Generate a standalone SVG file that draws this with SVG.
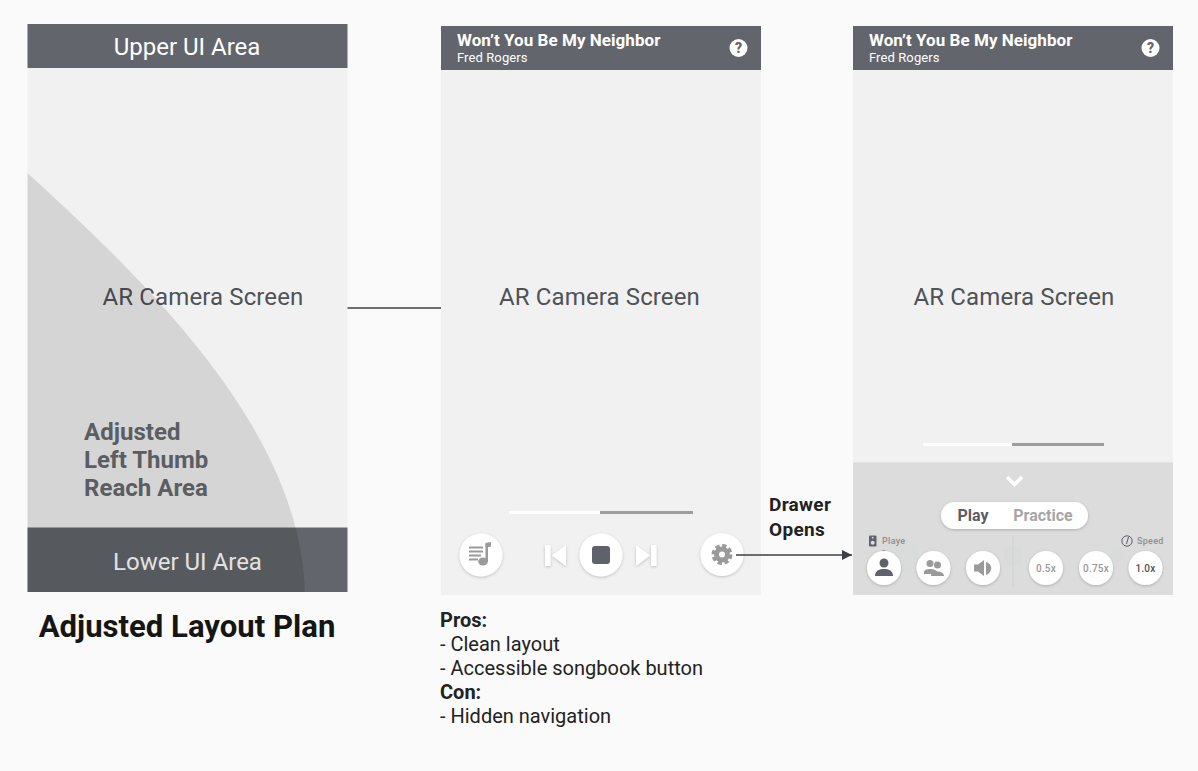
<svg xmlns="http://www.w3.org/2000/svg" width="1198" height="771" viewBox="0 0 1198 771">
<defs>
<filter id="sh" x="-30%" y="-30%" width="160%" height="170%"><feDropShadow dx="0" dy="1" stdDeviation="1.5" flood-color="#000" flood-opacity="0.22"/></filter>
<marker id="arr" markerWidth="11" markerHeight="11" refX="10" refY="5" orient="auto" markerUnits="userSpaceOnUse"><path d="M0,0 L10,5 L0,10 Z" fill="#3c3f43"/></marker>
</defs>
<style>
text{font-family:Roboto,"Liberation Sans",sans-serif}
.screen{fill:#f1f1f1}
.bar{fill:#62666c}
.cam{font-size:24px;fill:#4f5257;text-anchor:middle;letter-spacing:.12px}
.ui{font-size:24px;fill:#fff;text-anchor:middle}
.title{font-size:17px;font-weight:700;fill:#fff;letter-spacing:.05px}
.sub{font-size:13px;fill:#fff;letter-spacing:.1px}
.reach{font-size:24px;font-weight:700;fill:#5a5e63;letter-spacing:.03px}
.body{font-size:20px;fill:#222}
.bold{font-weight:700}
.btn{fill:#fff;filter:url(#sh)}
.ic{fill:#9a9a9a}
.dk{fill:#5f626a}
.sp{font-size:10px;font-weight:500;text-anchor:middle;letter-spacing:.2px}
.lab{font-size:9px;font-weight:500;fill:#8f8f8f}
.conn{stroke:#3c3f43;stroke-width:1.6;fill:none}
</style>
<rect width="1198" height="771" fill="#fafafa"/>
<g id="plan-screen">
<rect class="screen" x="27.500" y="24" width="320" height="568"/>
<rect class="bar" x="27.500" y="24" width="320" height="44"/>
<rect class="bar" x="27.500" y="527.500" width="320" height="64.500"/>
<text class="ui" x="187" y="55">Upper UI Area</text>
<text class="cam" x="203" y="305">AR Camera Screen</text>
<text class="ui" x="187.500" y="570">Lower UI Area</text>
<path d="M27.500 173C150 285 300 430 305 592H27.500Z" fill="#000" fill-opacity=".115"/>
<text class="reach"><tspan x="84" y="440">Adjusted</tspan><tspan x="84" y="468">Left Thumb</tspan><tspan x="84" y="496">Reach Area</tspan></text>
<text x="187" y="637" font-size="31.100" font-weight="700" fill="#151515" text-anchor="middle">Adjusted Layout Plan</text>
</g>
<g id="closed-screen">
<rect class="screen" x="441" y="26" width="320" height="569"/>
<rect class="bar" x="441" y="26" width="320" height="44"/>
<text class="title" x="457" y="46">Won’t You Be My Neighbor</text>
<text class="sub" x="457" y="62">Fred Rogers</text>
<circle cx="738.500" cy="48" r="9" fill="#fff"/>
<text x="738.500" y="53" font-size="14" font-weight="900" fill="#63666d" text-anchor="middle">?</text>
<text class="cam" x="599.500" y="305">AR Camera Screen</text>
<rect x="509" y="511" width="91" height="3" fill="#fff"/>
<rect x="600" y="511" width="93" height="3" fill="#9c9c9c"/>
<circle class="btn" cx="481" cy="555" r="21.500"/>
<g class="ic"><rect x="469" y="546.500" width="14" height="2"/><rect x="469" y="550.500" width="14" height="2"/><rect x="469" y="554.500" width="12" height="2"/><rect x="469" y="558.500" width="9" height="2"/><rect x="485.500" y="544" width="2.500" height="18"/><path d="M485.500 543L491 542V546.500L485.500 547.500Z"/><ellipse cx="483" cy="561.500" rx="4.800" ry="4"/></g>
<g fill="#fff" filter="url(#sh)"><rect x="545" y="545" width="5.500" height="21" rx="1"/><path d="M566 545V566L552 555.500Z"/><rect x="651" y="545" width="5.500" height="21" rx="1"/><path d="M636 545V566L650 555.500Z"/></g>
<circle class="btn" cx="601" cy="555" r="21.500"/>
<rect class="dk" x="592" y="546" width="18" height="18" rx="3"/>
<circle class="btn" cx="722" cy="554.500" r="21.500"/>
<g fill="none" stroke="#9a9a9a"><circle cx="722" cy="554.500" r="5.500" stroke-width="5"/><circle cx="722" cy="554.500" r="8.700" stroke-width="3.600" stroke-dasharray="4.200 2.630"/></g>
</g>
<g id="pros-cons">
<text class="body"><tspan class="bold" x="440" y="627">Pros:</tspan><tspan x="440" y="651">- Clean layout</tspan><tspan x="440" y="675">- Accessible songbook button</tspan><tspan class="bold" x="440" y="699">Con:</tspan><tspan x="440" y="723">- Hidden navigation</tspan></text>
</g>
<g id="drawer-label">
<text font-size="19" font-weight="700" fill="#222" letter-spacing=".3"><tspan x="769" y="511">Drawer</tspan><tspan x="769" y="536">Opens</tspan></text>
</g>
<g id="open-screen">
<rect class="screen" x="853" y="26" width="320" height="569"/>
<rect class="bar" x="853" y="26" width="320" height="44"/>
<text class="title" x="869" y="46">Won’t You Be My Neighbor</text>
<text class="sub" x="869" y="62">Fred Rogers</text>
<circle cx="1150.500" cy="48" r="9" fill="#fff"/>
<text x="1150.500" y="53" font-size="14" font-weight="900" fill="#63666d" text-anchor="middle">?</text>
<text class="cam" x="1014" y="305">AR Camera Screen</text>
<rect x="923" y="443" width="89" height="3" fill="#fff"/>
<rect x="1012" y="443" width="92" height="3" fill="#9c9c9c"/>
<rect x="853" y="462.500" width="320" height="132.500" fill="#dcdcdc"/>
<g fill="#d8dbd9"><circle cx="901" cy="555" r="19" fill-opacity=".3"/><rect x="1004" y="547" width="18" height="18" rx="3"/><circle cx="1118" cy="555" r="7"/></g>
<path d="M1007 477L1014.500 484.500L1022 477" fill="none" stroke="#fff" stroke-width="3.500"/>
<rect x="941" y="502" width="147" height="27" rx="13.500" fill="#fff" filter="url(#sh)"/>
<text x="973" y="521" font-size="16" font-weight="700" fill="#5a5e63" text-anchor="middle">Play</text>
<text x="1043" y="521" font-size="16" font-weight="700" fill="#a6a6a6" text-anchor="middle">Practice</text>
<rect x="869" y="535.500" width="7.500" height="11" rx="1" fill="#5f626a"/><circle cx="872.700" cy="542.700" r="2" fill="#dcdcdc"/><circle cx="872.700" cy="537.700" r=".9" fill="#dcdcdc"/>
<text class="lab" letter-spacing=".3"><tspan x="882" y="544">Playe</tspan><tspan x="882" y="555">r</tspan></text>
<circle cx="1127" cy="541" r="5.200" fill="none" stroke="#5f626a" stroke-width="1"/><path d="M1126.500 544L1128.500 537" stroke="#5f626a"/>
<text class="lab" x="1137" y="544" letter-spacing=".3">Speed</text>
<path d="M1013 536V587" stroke="#d0d0d0" stroke-width="1"/>
<circle class="btn" cx="884" cy="568" r="17"/>
<circle class="dk" cx="884" cy="563" r="4.500"/><path class="dk" d="M875 576C875 570 880 569 884 569C888 569 893 570 893 576Z"/>
<circle class="btn" cx="933.500" cy="568" r="17"/>
<g class="ic"><circle cx="930" cy="563.500" r="3.500"/><circle cx="937.500" cy="565" r="3.500"/><path d="M924 572C924 568 936 568 937 572V574H924Z"/><path d="M931 576C931 570 944 570 944 576Z"/></g>
<circle class="btn" cx="983" cy="568" r="17"/>
<path class="ic" d="M974 564.500H978L984 560V576L978 571.500H974Z"/><path class="ic" d="M986 562C993 564 993 572 986 575Z"/>
<circle class="btn" cx="1046" cy="568" r="17"/>
<text class="sp" x="1046" y="572" fill="#9a9a9a">0.5x</text>
<circle class="btn" cx="1096" cy="568" r="17"/>
<text class="sp" x="1096" y="572" fill="#9a9a9a">0.75x</text>
<circle class="btn" cx="1145.500" cy="568" r="17"/>
<text class="sp" x="1145.500" y="572" fill="#4f5257">1.0x</text>
</g>
<g id="connectors">
<path class="conn" d="M347.500 308H441"/>
<path class="conn" d="M736 555H852" marker-end="url(#arr)"/>
</g>
</svg>
